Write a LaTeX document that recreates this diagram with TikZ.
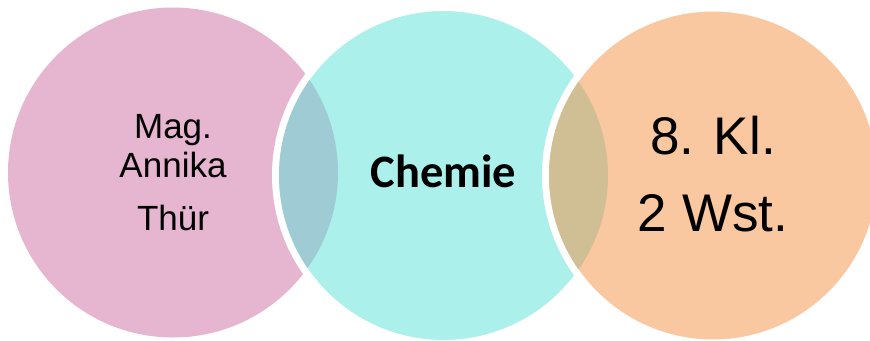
\documentclass[tikz,border=0pt]{standalone}
\usepackage{fontspec}
\setmainfont{Liberation Sans}
\newfontfamily\fachfont{Carlito}
\definecolor{rosa}{HTML}{E6B5D0}
\definecolor{tuerkis}{HTML}{ABF0EA}
\definecolor{pfirsich}{HTML}{FAC8A0}
\definecolor{schnittA}{HTML}{9FCCD4}
\definecolor{schnittB}{HTML}{D0BF94}
\begin{document}
\begin{tikzpicture}[x=1pt,y=-1pt]
      \tikzset{every node/.style={inner sep=0pt, anchor=base},
        txt/.style={font=\fontsize{35}{40}\selectfont},
        big/.style={font=\fontsize{53}{60}\selectfont},
        ring/.style={draw=white, line width=7pt}}
      \useasboundingbox (0,0) rectangle (870,340);
      \fill [rosa] (173,172.5) circle (165pt);
      \filldraw [fill=tuerkis, ring] (443.5,175.5) circle (168pt);
      \begin{scope}
        \clip (173,172.5) circle (165pt);
        \fill [schnittA] (443.5,175.5) circle (164.5pt);
      \end{scope}
      \filldraw [fill=pfirsich, ring] (713,175.5) circle (167.5pt);
      \begin{scope}
        \clip (443.5,175.5) circle (164.5pt);
        \fill [schnittB] (713,175.5) circle (164pt);
      \end{scope}
      \node [txt] (mag) at (173,138) {Mag.};
      \node [txt] (vorname) at (173,177) {Annika};
      \node [txt] (name) at (173,230) {Thür};
      \node [font=\fachfont\bfseries\fontsize{46.5}{52}\selectfont] (fach) at (443.5,187) {Chemie};
      \node [big] (klasse) at (713,154) {8. Kl.};
      \node [big] (stunden) at (713,231) {2 Wst.};
    \end{tikzpicture}
\end{document}
